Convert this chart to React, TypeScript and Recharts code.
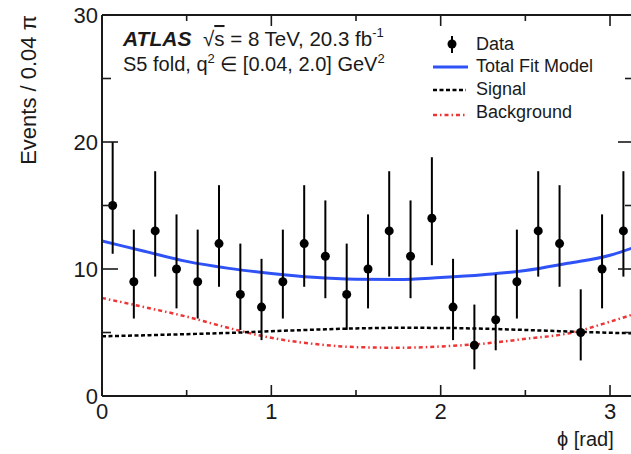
import { ComposedChart, ErrorBar, Line, Scatter, XAxis, YAxis } from "recharts";

// data points (bin centres, 25 bins of 0.04π)
const binCenters = [
  0.063, 0.188, 0.314, 0.44, 0.565, 0.691, 0.817, 0.942, 1.068, 1.194, 1.319, 1.445, 1.571,
  1.696, 1.822, 1.948, 2.073, 2.199, 2.325, 2.45, 2.576, 2.702, 2.827, 2.953, 3.079,
];
const counts = [15, 9, 13, 10, 9, 12, 8, 7, 9, 12, 11, 8, 10, 13, 11, 14, 7, 4, 6, 9, 13, 12, 5, 10, 13];
// error bar ends
const barLow = [
  11.2, 6.1, 9.4, 6.9, 6.1, 8.6, 5.2, 4.4, 6.1, 8.6, 7.7, 5.2, 6.9, 9.4, 7.7, 10.3, 4.4, 2.1, 3.6,
  6.1, 9.4, 8.6, 2.8, 6.9, 9.4,
];
const barHigh = [
  20.0, 13.1, 17.7, 14.3, 13.1, 16.6, 12.0, 10.8, 13.1, 16.6, 15.4, 12.0, 14.3, 17.7, 15.4, 18.8,
  10.8, 7.2, 9.6, 13.1, 17.7, 16.6, 8.4, 14.3, 17.7,
];

// fit curves
const curveX = [0, 0.25, 0.5, 0.75, 1.0, 1.25, 1.5, 1.75, 2.0, 2.25, 2.5, 2.75, 3.0, 3.1416];
const totalFit = [12.2, 11.4, 10.6, 10.05, 9.65, 9.35, 9.2, 9.17, 9.33, 9.55, 9.88, 10.45, 11.08, 11.7];
const signal = [4.7, 4.78, 4.87, 4.97, 5.1, 5.22, 5.32, 5.37, 5.36, 5.3, 5.2, 5.08, 4.98, 4.94];
const background = [7.72, 7.0, 6.25, 5.35, 4.58, 4.1, 3.85, 3.8, 3.9, 4.12, 4.5, 4.92, 5.85, 6.45];

const xTicks = [0, 0.5, 1, 1.5, 2, 2.5, 3];
const yTicks = [0, 5, 10, 15, 20, 25, 30];

const points = binCenters.map((x, i) => ({
  x,
  y: counts[i],
  err: [counts[i] - barLow[i], barHigh[i] - counts[i]],
}));
const curves = curveX.map((x, i) => ({
  x,
  total: totalFit[i],
  signal: signal[i],
  background: background[i],
}));

const FONT = "'Liberation Sans', Arial, Helvetica, sans-serif";
const INK = "#1a1a1a";
const BLUE = "#2f52f7";
const RED = "#ee3535";

type Side = "bottom" | "top" | "left" | "right";

const makeTick = (side: Side) => (props: any) => {
  const { x, y, payload } = props;
  const v = payload.value as number;
  if (side === "bottom" || side === "top") {
    const major = Number.isInteger(v);
    const len = major ? 11 : 6;
    const dir = side === "bottom" ? -1 : 1;
    return (
      <g>
        <line x1={x} y1={y} x2={x} y2={y + dir * len} stroke={INK} strokeWidth={1.6} />
        {side === "bottom" && major && (
          <text x={x} y={y + 23} textAnchor="middle" fontSize={22} fontFamily={FONT} fill={INK}>
            {v}
          </text>
        )}
      </g>
    );
  }
  const major = v % 10 === 0;
  const len = major ? 16 : 9;
  const dir = side === "left" ? 1 : -1;
  return (
    <g>
      <line x1={x} y1={y} x2={x + dir * len} y2={y} stroke={INK} strokeWidth={1.6} />
      {side === "left" && major && (
        <text x={x - 4} y={y + 8} textAnchor="end" fontSize={22} fontFamily={FONT} fill={INK}>
          {v}
        </text>
      )}
    </g>
  );
};

function Overlay() {
  return (
    <svg
      width={631}
      height={454}
      style={{ position: "absolute", left: 0, top: 0, pointerEvents: "none" }}
      fontFamily={FONT}
      fill={INK}
    >
      <text transform="translate(36,90) rotate(-90)" textAnchor="middle" fontSize={22}>
        Events / 0.04 π
      </text>
      <text x={557} y={446} fontSize={20}>
        ϕ [rad]
      </text>

      <text x={123} y={46} fontSize={21} fontWeight="bold" fontStyle="italic">
        ATLAS
      </text>
      <text x={203} y={46} fontSize={20.5}>
        √<tspan style={{ textDecoration: "overline" }}>s</tspan> = 8 TeV, 20.3 fb
        <tspan dy={-9} fontSize={13}>
          -1
        </tspan>
      </text>
      <text x={123} y={71} fontSize={20}>
        S5 fold, q
        <tspan dy={-8} fontSize={13}>
          2
        </tspan>
        <tspan dy={8}> ∈ [0.04, 2.0] GeV</tspan>
        <tspan dy={-8} fontSize={13}>
          2
        </tspan>
      </text>

      {/* legend */}
      <line x1={452} y1={36} x2={452} y2={53} stroke="#000" strokeWidth={2} />
      <circle cx={452} cy={44} r={4.5} fill="#000" />
      <text x={476} y={50} fontSize={18}>
        Data
      </text>
      <line x1={433} y1={67} x2={468} y2={67} stroke={BLUE} strokeWidth={3} />
      <text x={476} y={72} fontSize={18}>
        Total Fit Model
      </text>
      <line x1={433} y1={90} x2={466} y2={90} stroke="#000" strokeWidth={2.5} strokeDasharray="4 2.5" />
      <text x={476} y={95} fontSize={18}>
        Signal
      </text>
      <line x1={433} y1={115} x2={466} y2={115} stroke={RED} strokeWidth={2.5} strokeDasharray="4 3 1.5 3" />
      <text x={476} y={118} fontSize={18}>
        Background
      </text>
    </svg>
  );
}

const axisLine = { stroke: INK, strokeWidth: 2 };

export default function App() {
  return (
    <div
      style={{
        position: "absolute",
        left: 0,
        top: 0,
        width: 631,
        height: 454,
        overflow: "hidden",
        background: "#fff",
      }}
    >
      <ComposedChart width={660} height={454} margin={{ top: 14, left: 101, right: 25, bottom: 57 }}>
        <XAxis
          xAxisId="b"
          dataKey="x"
          type="number"
          domain={[0, Math.PI]}
          ticks={xTicks}
          height={1}
          tickSize={0}
          tickMargin={0}
          tickLine={false}
          tick={makeTick("bottom")}
          axisLine={axisLine}
          interval={0}
          allowDataOverflow
        />
        <XAxis
          xAxisId="t"
          orientation="top"
          dataKey="x"
          type="number"
          domain={[0, Math.PI]}
          ticks={xTicks}
          height={1}
          tickSize={0}
          tickMargin={0}
          tickLine={false}
          tick={makeTick("top")}
          axisLine={axisLine}
          interval={0}
          allowDataOverflow
        />
        <YAxis
          yAxisId="l"
          type="number"
          domain={[0, 30]}
          ticks={yTicks}
          width={1}
          tickSize={0}
          tickMargin={0}
          tickLine={false}
          tick={makeTick("left")}
          axisLine={axisLine}
          interval={0}
          allowDataOverflow
        />
        <YAxis
          yAxisId="r"
          orientation="right"
          type="number"
          domain={[0, 30]}
          ticks={yTicks}
          width={1}
          tickSize={0}
          tickMargin={0}
          tickLine={false}
          tick={makeTick("right")}
          axisLine={axisLine}
          interval={0}
          allowDataOverflow
        />
        <Line
          xAxisId="b"
          yAxisId="l"
          data={curves}
          dataKey="background"
          type="monotone"
          stroke={RED}
          strokeWidth={2.5}
          strokeDasharray="4 3 1.5 3"
          dot={false}
          isAnimationActive={false}
        />
        <Line
          xAxisId="b"
          yAxisId="l"
          data={curves}
          dataKey="signal"
          type="monotone"
          stroke="#000"
          strokeWidth={2.5}
          strokeDasharray="4 2.5"
          dot={false}
          isAnimationActive={false}
        />
        <Line
          xAxisId="b"
          yAxisId="l"
          data={curves}
          dataKey="total"
          type="monotone"
          stroke={BLUE}
          strokeWidth={3}
          dot={false}
          isAnimationActive={false}
        />
        <Scatter
          xAxisId="b"
          yAxisId="l"
          data={points}
          dataKey="y"
          fill="#000"
          shape={(p: any) => <circle cx={p.cx} cy={p.cy} r={4.5} fill="#000" />}
          isAnimationActive={false}
        >
          <ErrorBar dataKey="err" direction="y" width={0} stroke="#000" strokeWidth={2} />
        </Scatter>
      </ComposedChart>
      <Overlay />
    </div>
  );
}
